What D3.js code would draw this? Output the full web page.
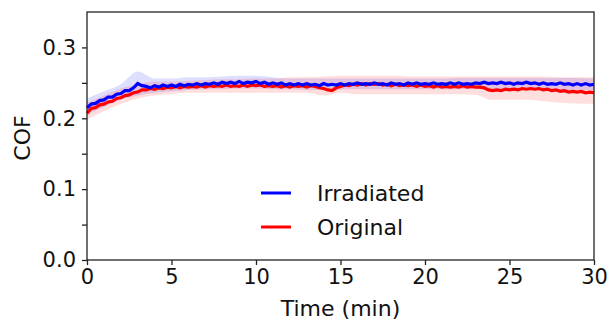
<!DOCTYPE html>
<html>
<head>
<meta charset="utf-8">
<script src="https://cdn.jsdelivr.net/npm/d3@7"></script>
<style>
  body { margin: 0; background: #fff; }
  text { font-family: "DejaVu Sans", sans-serif; fill: #111; }
</style>
</head>
<body>
<svg id="chart" width="610" height="323"></svg>
<script>
// time step of the mean curves (min)
var timeStep = 0.25;
// Irradiated sample, mean COF
var irradiated = [
 0.215,0.220,0.221,0.225,0.226,0.230,0.230,0.234,0.235,0.239,0.239,0.243,0.249,0.246,0.245,0.243,
 0.246,0.244,0.247,0.245,0.247,0.245,0.248,0.246,0.248,0.247,0.249,0.247,0.249,0.248,0.250,0.248,
 0.251,0.249,0.251,0.249,0.252,0.249,0.251,0.250,0.252,0.249,0.251,0.248,0.250,0.248,0.250,0.247,
 0.249,0.247,0.249,0.247,0.249,0.247,0.248,0.246,0.249,0.247,0.248,0.247,0.249,0.247,0.249,0.248,
 0.250,0.248,0.249,0.248,0.250,0.248,0.249,0.247,0.250,0.248,0.249,0.247,0.250,0.248,0.250,0.248,
 0.249,0.248,0.250,0.248,0.249,0.248,0.250,0.248,0.250,0.248,0.249,0.248,0.250,0.249,0.251,0.249,
 0.250,0.249,0.251,0.249,0.250,0.248,0.250,0.249,0.251,0.249,0.250,0.248,0.250,0.248,0.249,0.248,
 0.250,0.248,0.249,0.247,0.249,0.247,0.249,0.247,0.248
];
// Original sample, mean COF
var original = [
 0.207,0.214,0.215,0.219,0.220,0.223,0.224,0.228,0.229,0.232,0.233,0.236,0.237,0.240,0.240,0.242,
 0.241,0.243,0.242,0.244,0.243,0.245,0.243,0.245,0.244,0.245,0.244,0.246,0.244,0.246,0.245,0.246,
 0.245,0.247,0.245,0.246,0.245,0.247,0.245,0.247,0.246,0.247,0.245,0.246,0.245,0.246,0.244,0.246,
 0.244,0.246,0.245,0.246,0.244,0.246,0.245,0.243,0.242,0.240,0.239,0.243,0.245,0.247,0.246,0.248,
 0.247,0.249,0.247,0.249,0.248,0.249,0.247,0.248,0.246,0.248,0.246,0.247,0.246,0.247,0.245,0.247,
 0.245,0.246,0.244,0.246,0.244,0.245,0.244,0.245,0.244,0.246,0.244,0.245,0.244,0.244,0.243,0.240,
 0.239,0.240,0.239,0.241,0.240,0.241,0.240,0.242,0.241,0.242,0.241,0.242,0.240,0.241,0.239,0.240,
 0.238,0.239,0.237,0.238,0.237,0.238,0.236,0.237,0.236
];
// spread bands, one value per minute (0..30)
var irrUpper = [0.228,0.238,0.248,0.266,0.256,0.256,0.258,0.258,0.259,0.260,0.260,0.258,0.256,0.256,0.256,0.256,
 0.256,0.256,0.256,0.256,0.256,0.256,0.257,0.257,0.257,0.257,0.257,0.257,0.257,0.257,0.256];
var irrLower = [0.205,0.216,0.226,0.232,0.236,0.238,0.240,0.241,0.241,0.242,0.242,0.241,0.241,0.240,0.240,0.241,
 0.241,0.241,0.241,0.241,0.241,0.241,0.241,0.241,0.241,0.241,0.241,0.241,0.240,0.240,0.240];
var origUpper = [0.222,0.232,0.242,0.248,0.252,0.252,0.253,0.254,0.255,0.255,0.256,0.256,0.258,0.258,0.259,0.260,
 0.260,0.260,0.260,0.259,0.259,0.259,0.259,0.259,0.259,0.259,0.259,0.259,0.258,0.258,0.258];
var origLower = [0.198,0.210,0.220,0.228,0.232,0.234,0.236,0.236,0.236,0.236,0.236,0.236,0.236,0.236,0.232,0.236,
 0.234,0.234,0.234,0.234,0.234,0.234,0.234,0.233,0.226,0.226,0.226,0.224,0.222,0.221,0.220];

var xTicks = [0, 5, 10, 15, 20, 25, 30];
var yTicks = [0, 0.05, 0.1, 0.15, 0.2, 0.25, 0.3];
var yLabelled = [0, 0.1, 0.2, 0.3];
var seriesNames = ["Irradiated", "Original"];
var seriesColors = ["#0000ff", "#ff0000"];

var svg = d3.select("#chart");
var pLeft = 87, pRight = 594, pTop = 12, pBottom = 260;

var x = d3.scaleLinear().domain([0, 30]).range([pLeft, pRight]);
var y = d3.scaleLinear().domain([0, 0.35]).range([pBottom, pTop]);

function toPts(arr, step) {
	return arr.map(function(v, i) { return [i * step, v]; });
}

var bandArea = d3.area()
	.x(function(d) { return x(d[0]); })
	.y0(function(d) { return y(d[1]); })
	.y1(function(d) { return y(d[2]); })
	.curve(d3.curveMonotoneX);

var bands = [
	{lo: irrLower, hi: irrUpper, c: seriesColors[0]},
	{lo: origLower, hi: origUpper, c: seriesColors[1]}
];
bands.forEach(function(b) {
	var pts = b.lo.map(function(v, i) { return [i, v, b.hi[i]]; });
	svg.append("path")
		.attr("d", bandArea(pts))
		.attr("fill", b.c)
		.attr("fill-opacity", 0.13);
});

var line = d3.line()
	.x(function(d) { return x(d[0]); })
	.y(function(d) { return y(d[1]); });

// red first, blue on top
svg.append("path")
	.attr("d", line(toPts(original, timeStep)))
	.attr("fill", "none")
	.attr("stroke", seriesColors[1])
	.attr("stroke-width", 3.2);
svg.append("path")
	.attr("d", line(toPts(irradiated, timeStep)))
	.attr("fill", "none")
	.attr("stroke", seriesColors[0])
	.attr("stroke-width", 3.2);

// axes
var xAxis = d3.axisBottom(x).tickValues(xTicks).tickSize(5).tickPadding(4);
var gx = svg.append("g").attr("transform", "translate(0," + pBottom + ")").call(xAxis);
var yAxis = d3.axisLeft(y).tickValues(yTicks).tickSize(5).tickPadding(6)
	.tickFormat(function(d) { return yLabelled.indexOf(d) >= 0 ? d3.format(".1f")(d) : ""; });
var gy = svg.append("g").attr("transform", "translate(" + pLeft + ",0)").call(yAxis);
[gx, gy].forEach(function(g) {
	g.select(".domain").remove();
	g.selectAll(".tick line").attr("stroke", "#222").attr("stroke-width", 1.3);
	g.selectAll("text").style("font-size", "21px").attr("fill", "#111").attr("font-family", null);
});

// frame
svg.append("rect")
	.attr("x", pLeft).attr("y", pTop)
	.attr("width", pRight - pLeft).attr("height", pBottom - pTop)
	.attr("fill", "none").attr("stroke", "#222").attr("stroke-width", 1.3);

svg.append("text")
	.attr("x", (pLeft + pRight) / 2).attr("y", 316)
	.attr("text-anchor", "middle")
	.style("font-size", "22px")
	.text("Time (min)");
svg.append("text")
	.attr("transform", "translate(30,138) rotate(-90)")
	.attr("text-anchor", "middle")
	.style("font-size", "22px")
	.text("COF");

// legend
var leg = svg.append("g");
seriesNames.forEach(function(n, i) {
	var yy = 193 + i * 34;
	leg.append("line")
		.attr("x1", 261).attr("x2", 291).attr("y1", yy).attr("y2", yy)
		.attr("stroke", seriesColors[i]).attr("stroke-width", 3);
	leg.append("text")
		.attr("x", 317).attr("y", yy + 8)
		.style("font-size", "22px")
		.text(n);
});
</script>
</body>
</html>
